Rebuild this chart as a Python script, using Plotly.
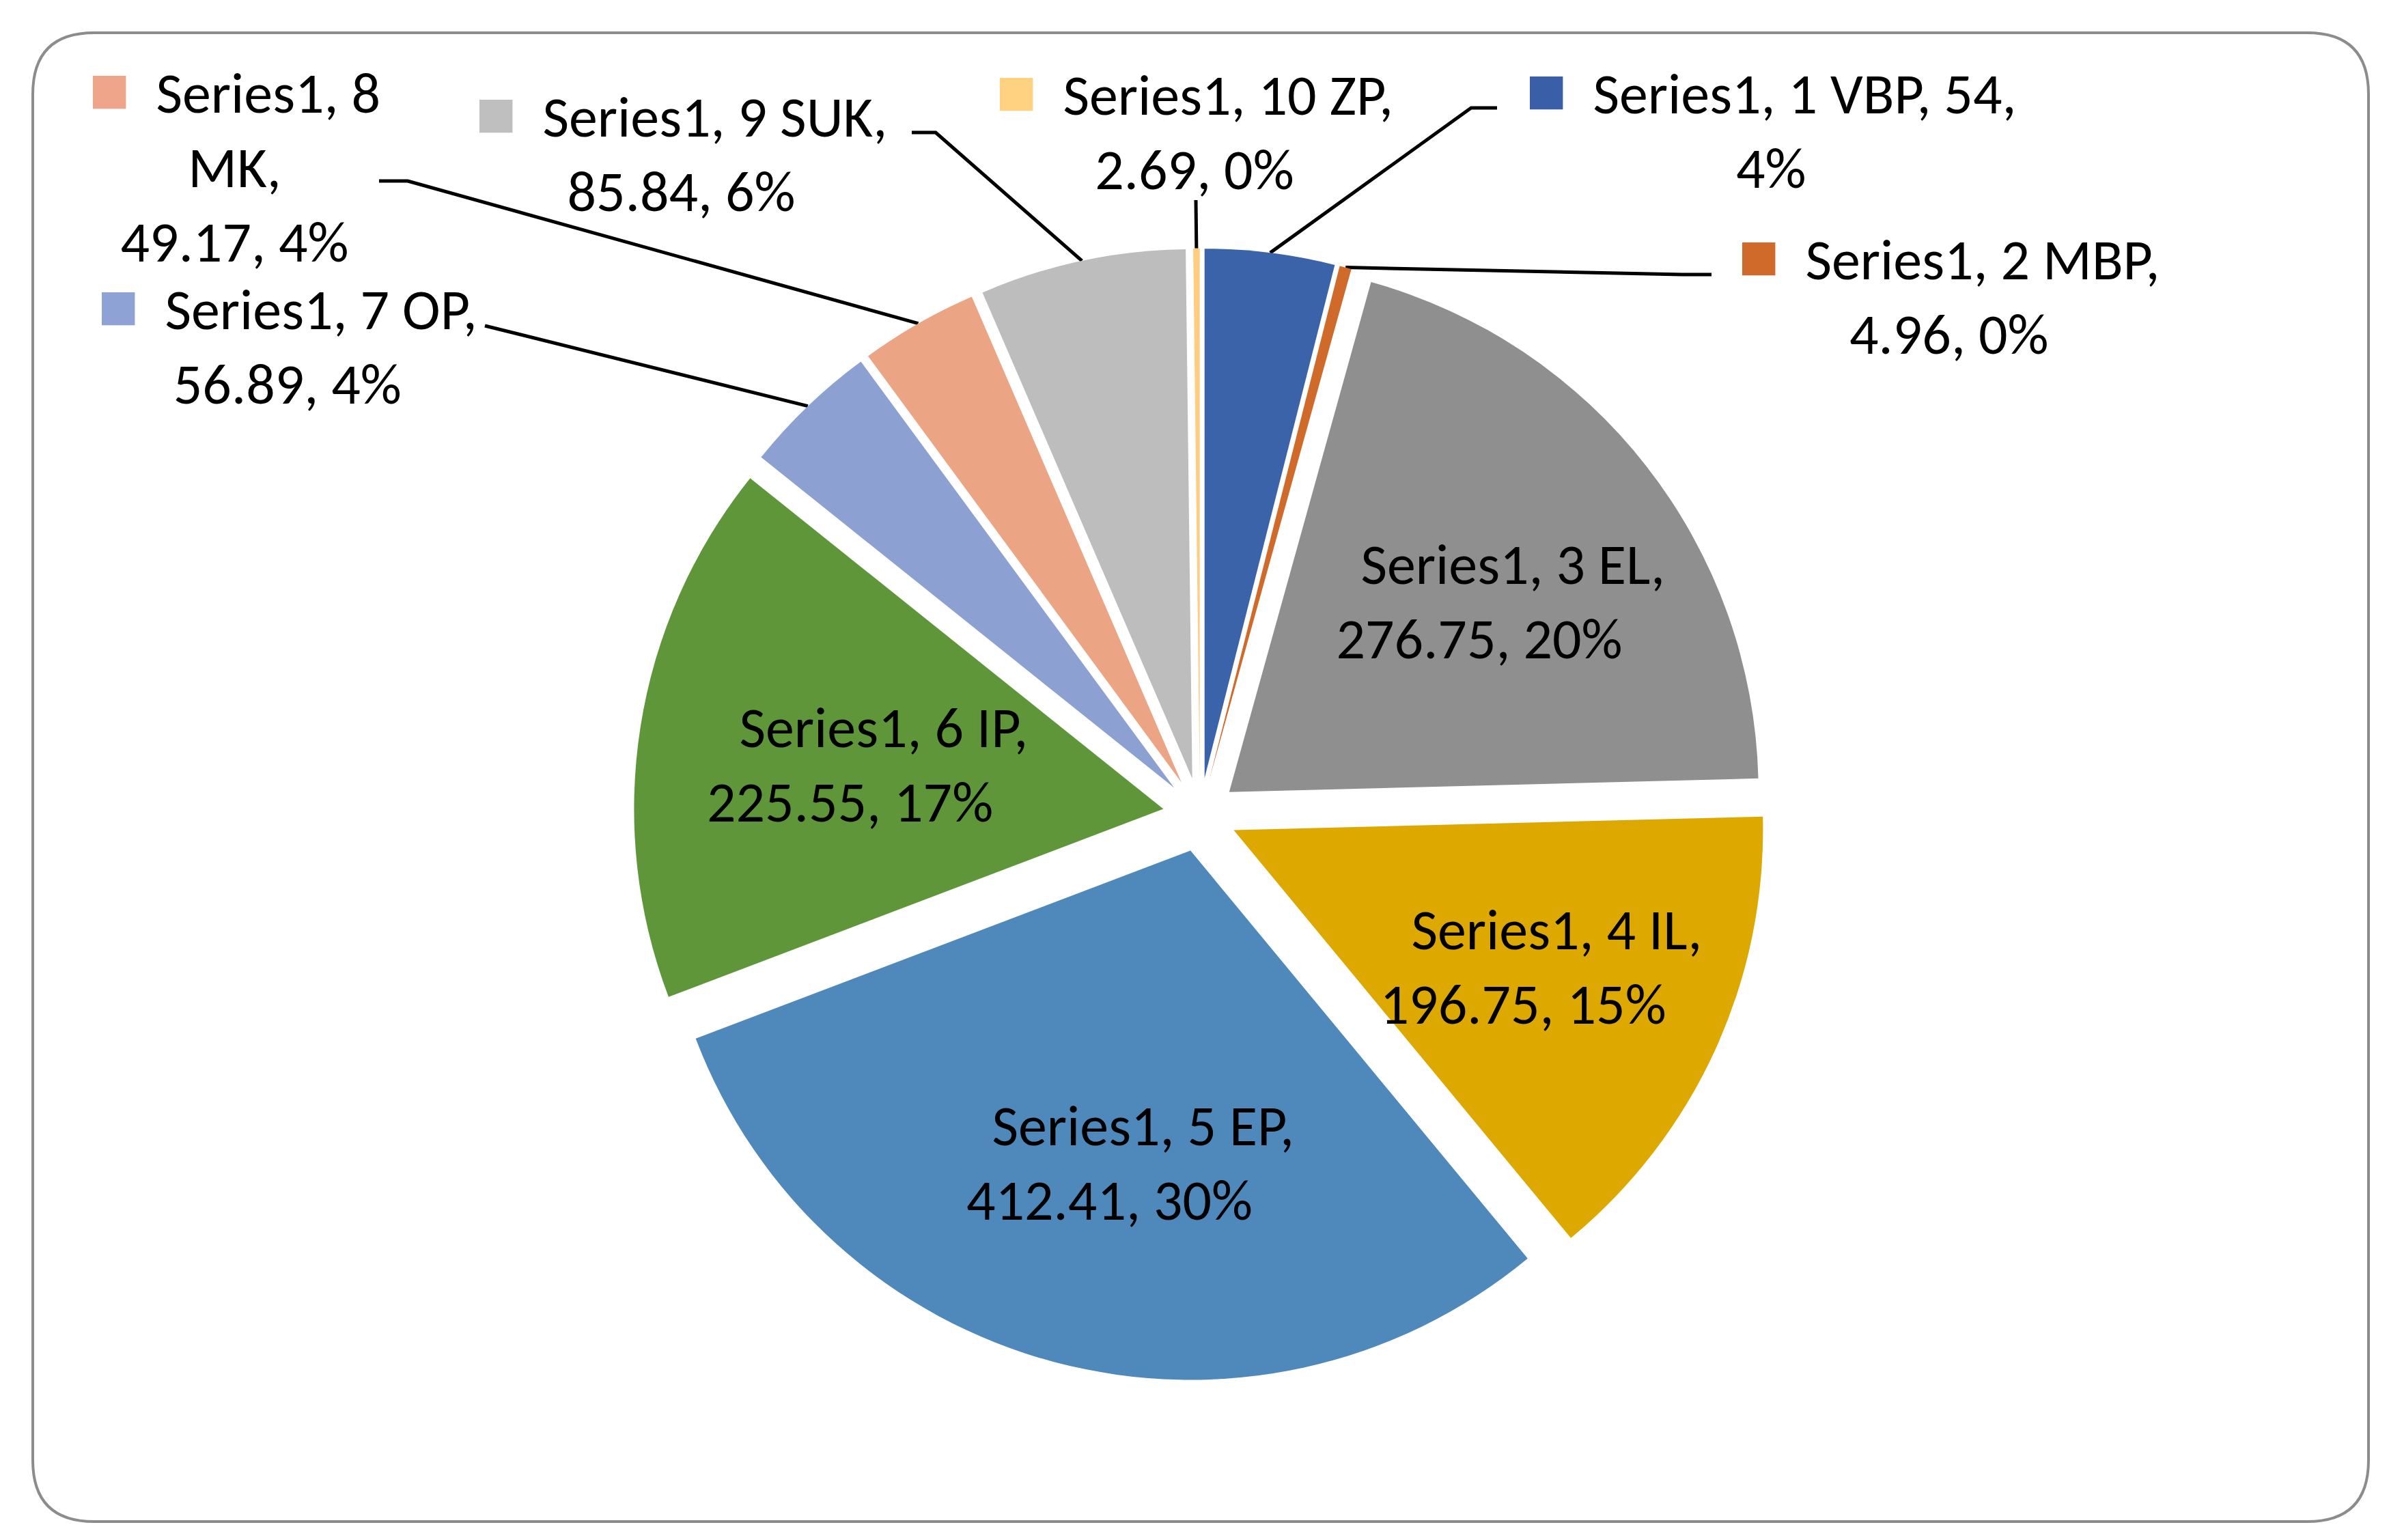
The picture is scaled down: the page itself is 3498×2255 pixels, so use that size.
import math
import plotly.graph_objects as go

# Data
series_name = "Series1"
categories = ["1 VBP", "2 MBP", "3 EL", "4 IL", "5 EP", "6 IP", "7 OP", "8 MK", "9 SUK", "10 ZP"]
values = [54, 4.96, 276.75, 196.75, 412.41, 225.55, 56.89, 49.17, 85.84, 2.69]

# Styling
slice_colors = ["#3A63AA", "#D06A2A", "#8F8F8F", "#DDA800", "#4F88BA",
                "#5F963A", "#8DA0D2", "#EBA585", "#BDBDBD", "#FFCC80"]
key_colors = ["#3A5FA8", "#D06A2A", "#8F8F8F", "#DDA800", "#4F88BA",
              "#5F963A", "#8EA2D5", "#EFA58A", "#BFBFBF", "#FFD282"]
inside = [False, False, True, True, True, True, False, False, False, False]

# Excel rounds the pie percentages so that they add up to 100 (largest remainder)
total = sum(values)
raw = [v / total * 100 for v in values]
pct = [int(r) for r in raw]
order = sorted(range(len(raw)), key=lambda i: raw[i] - int(raw[i]), reverse=True)
for i in order[:100 - sum(pct)]:
    pct[i] += 1


def key(i):
    return f"<span style='color:{key_colors[i]};font-size:100px'>■</span>  "


def label_text(i):
    v = f"{values[i]:g}"
    p = f"{pct[i]}%"
    cat = categories[i]
    if cat == "8 MK":
        return f"{series_name}, 8<br>MK,<br>{v}, {p}"
    if cat == "1 VBP":
        return f"{series_name}, {cat}, {v},<br>{p}"
    return f"{series_name}, {cat},<br>{v}, {p}"


W, H = 3498, 2255
font_family = "Carlito, Calibri, Lato, 'Open Sans', sans-serif"
fsize = 84

# pie geometry (pixels): centre, radius, explosion
cx, cy, r, pull = 1749, 1185, 775, 0.07
half = r * (1 + pull)
dom_x = [(cx - half) / W, (cx + half) / W]
dom_y = [(H - cy - half) / H, (H - cy + half) / H]

pie = go.Pie(
    labels=categories,
    values=values,
    sort=False,
    direction="clockwise",
    rotation=0,
    pull=[pull] * len(values),
    marker=dict(colors=slice_colors, line=dict(color="white", width=0)),
    textinfo="none",
    domain=dict(x=dom_x, y=dom_y),
    automargin=False,
    hoverinfo="label+value+percent",
    showlegend=False,
)

fig = go.Figure(data=[pie])

# outside labels: centre of the text block and the elbow of the leader line
label_pos = {
    "1 VBP": dict(tx=2585, ty=176, elbow=[(2184, 150), (2146, 150)]),
    "2 MBP": dict(tx=2846, ty=419, elbow=[(2498, 394), (2455, 394)]),
    "7 OP": dict(tx=413, ty=492, elbow=[(702, 469)]),
    "8 MK": dict(tx=335, ty=230, elbow=[(547, 257), (589, 257)]),
    "9 SUK": dict(tx=989, ty=210, elbow=[(1327, 186), (1362, 186)]),
    "10 ZP": dict(tx=1741, ty=178, elbow=[(1743, 285)]),
}

annotations = []
cum = 0
for i, v in enumerate(values):
    mid = (cum + v / 2) / total * 2 * math.pi
    cum += v
    if inside[i]:
        # label sits inside the exploded slice, along its middle angle
        rr = r * (pull + 0.6)
        annotations.append(dict(x=cx + rr * math.sin(mid), y=cy - rr * math.cos(mid),
                                xref="x", yref="y", text=key(i) + label_text(i),
                                showarrow=False, xanchor="center", yanchor="middle",
                                align="center",
                                font=dict(family=font_family, size=fsize, color="black")))
        continue
    lp = label_pos[categories[i]]
    # point on the outer edge of the exploded slice
    px = cx + r * (1 + pull) * math.sin(mid)
    py = cy - r * (1 + pull) * math.cos(mid)
    xs = [p[0] for p in lp["elbow"]] + [px]
    ys = [p[1] for p in lp["elbow"]] + [py]
    fig.add_trace(go.Scatter(x=xs, y=ys, mode="lines", line=dict(color="black", width=5),
                             hoverinfo="skip", showlegend=False))
    annotations.append(dict(x=lp["tx"], y=lp["ty"], xref="x", yref="y",
                            text=key(i) + label_text(i), showarrow=False,
                            xanchor="center", yanchor="middle", align="center",
                            font=dict(family=font_family, size=fsize, color="black")))

# rounded chart border
x0, x1 = 40, 3460
y0, y1 = 40, 2220
rd = 90
border = (f"M {x0 + rd},{y0} L {x1 - rd},{y0} Q {x1},{y0} {x1},{y0 + rd} "
          f"L {x1},{y1 - rd} Q {x1},{y1} {x1 - rd},{y1} "
          f"L {x0 + rd},{y1} Q {x0},{y1} {x0},{y1 - rd} "
          f"L {x0},{y0 + rd} Q {x0},{y0} {x0 + rd},{y0} Z")

fig.update_layout(
    width=W,
    height=H,
    margin=dict(l=0, r=0, t=0, b=0, autoexpand=False),
    paper_bgcolor="white",
    plot_bgcolor="rgba(0,0,0,0)",
    font=dict(family=font_family, size=fsize, color="black"),
    xaxis=dict(range=[0, W], visible=False, fixedrange=True, domain=[0, 1]),
    yaxis=dict(range=[H, 0], visible=False, fixedrange=True, domain=[0, 1]),
    annotations=annotations,
    shapes=[dict(type="path", path=border, xref="x", yref="y",
                 line=dict(color="#8C8C8C", width=4), layer="below")],
)

fig.write_html("out.html")
